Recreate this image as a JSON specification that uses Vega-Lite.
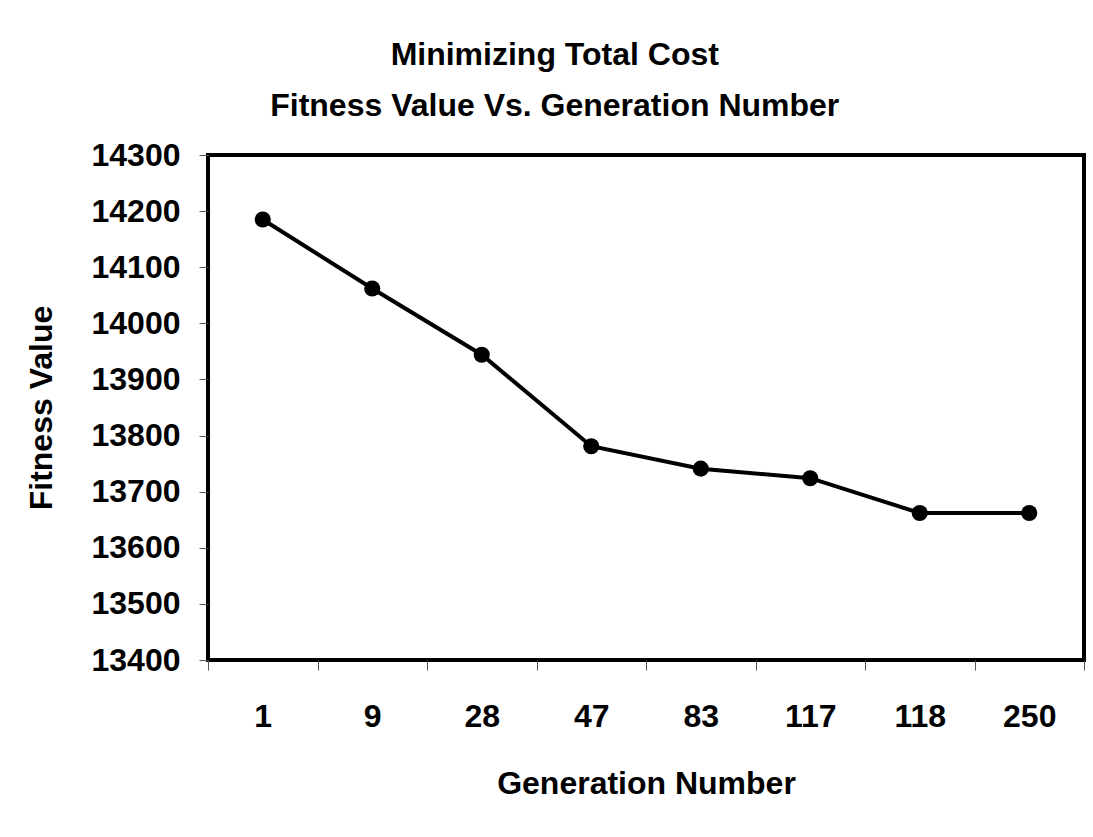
{
  "$schema": "https://vega.github.io/schema/vega-lite/v6.json",
  "width": 876,
  "height": 505,
  "autosize": {"type": "none"},
  "padding": {"left": 208, "top": 155, "right": 9, "bottom": 177},
  "background": "white",
  "title": {
    "text": ["Minimizing Total Cost", "Fitness Value Vs. Generation Number"],
    "anchor": "middle",
    "frame": "bounds",
    "font": "Liberation Sans",
    "fontSize": 32,
    "fontWeight": "bold",
    "lineHeight": 51,
    "color": "black",
    "offset": 16
  },
  "data": {
    "values": [
      {"generation": "1", "fitness": 14185},
      {"generation": "9", "fitness": 14062},
      {"generation": "28", "fitness": 13944},
      {"generation": "47", "fitness": 13781},
      {"generation": "83", "fitness": 13741},
      {"generation": "117", "fitness": 13724},
      {"generation": "118", "fitness": 13662},
      {"generation": "250", "fitness": 13662}
    ]
  },
  "encoding": {
    "x": {
      "field": "generation",
      "type": "ordinal",
      "sort": null,
      "title": "Generation Number",
      "scale": {"type": "band", "paddingInner": 0, "paddingOuter": 0},
      "axis": {
        "labelAngle": 0,
        "tickBand": "extent",
        "tickSize": 10,
        "tickColor": "#555555",
        "tickWidth": 1,
        "domain": false,
        "labelPadding": 31,
        "titlePadding": 36
      }
    },
    "y": {
      "field": "fitness",
      "type": "quantitative",
      "title": "Fitness Value",
      "scale": {"domain": [13400, 14300], "nice": false, "zero": false},
      "axis": {
        "values": [13400, 13500, 13600, 13700, 13800, 13900, 14000, 14100, 14200, 14300],
        "format": "d",
        "grid": false,
        "domain": false,
        "tickSize": 9,
        "tickColor": "#555555",
        "tickWidth": 1,
        "labelPadding": 19,
        "titlePadding": 33
      }
    }
  },
  "layer": [
    {"mark": {"type": "line", "color": "black", "strokeWidth": 4}},
    {"mark": {"type": "point", "filled": true, "shape": "circle", "color": "black", "opacity": 1, "size": 260}}
  ],
  "config": {
    "view": {"stroke": "black", "strokeWidth": 4},
    "axis": {
      "labelFont": "Liberation Sans",
      "labelFontSize": 32,
      "labelFontWeight": "bold",
      "labelColor": "black",
      "titleFont": "Liberation Sans",
      "titleFontSize": 32,
      "titleFontWeight": "bold",
      "titleColor": "black"
    }
  }
}
